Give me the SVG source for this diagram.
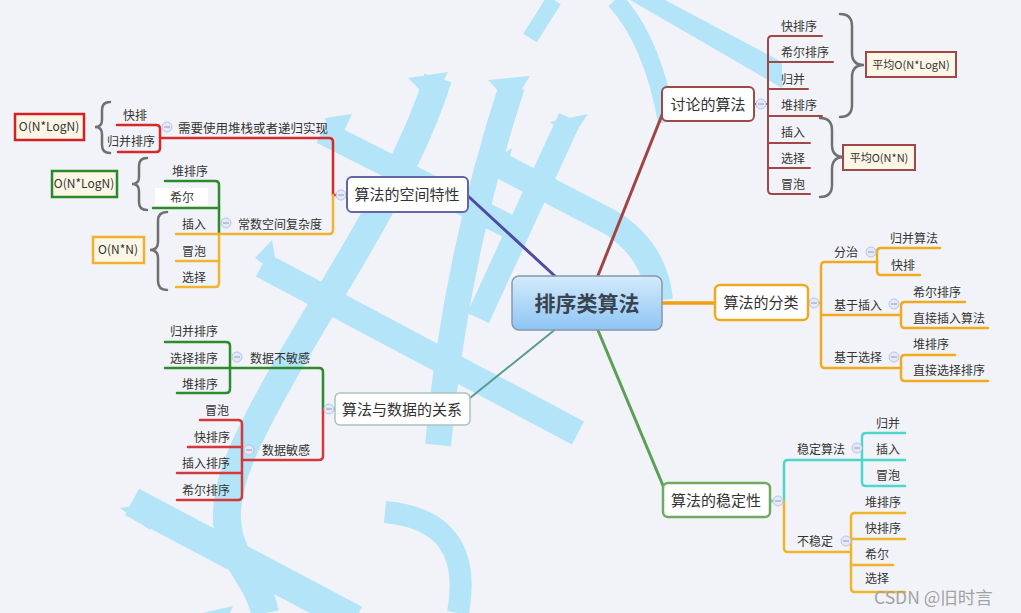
<svg xmlns="http://www.w3.org/2000/svg" width="1021" height="613" viewBox="0 0 1021 613">
<defs>
<linearGradient id="cg" x1="0" y1="0" x2="0" y2="1">
<stop offset="0" stop-color="#d4ebfc"/>
<stop offset="1" stop-color="#8ec5f3"/>
</linearGradient>
<style>
.t{font-family:"Noto Sans CJK SC","Liberation Sans",sans-serif;fill:#333;}
.leaf{font-size:12px;}
.mid{font-size:15px;}
.note{font-size:11px;}
.ln{fill:none;stroke-linecap:round;stroke-linejoin:round;}
.wm{fill:none;stroke:#b3e4f8;stroke-linecap:butt;}
.wf{fill:#b3e4f8;}
.box{fill:#fff;stroke-width:2;}
.nb{fill:#fcf6e6;stroke-width:2.5;}
.br{fill:none;stroke:#707070;stroke-width:2.5;stroke-linecap:round;}
.cc{fill:#e3e9f6;stroke:#b7c4e2;stroke-width:1;}
.cm{stroke:#8e9cc8;stroke-width:1;}
</style>
</defs>
<rect x="0" y="0" width="1021" height="613" fill="#f2f3f8"/>

<g id="watermark">
<path class="wm" stroke-width="16" d="M554,0 L530,38"/>
<path class="wm" stroke-width="18" d="M615,0 Q652,40 667,122"/>
<path class="wf" d="M630,0 L665,0 L782,62 L782,88 Z"/>
<path class="wm" stroke-width="26" d="M512,86 Q455,260 438,445"/>
<path class="wf" d="M488,80 L530,76 L512,105 Z"/>
<path class="wm" stroke-width="28" d="M438,78 C400,200 300,330 248,440 S255,560 265,613"/>
<path class="wf" d="M408,78 L448,72 L432,102 Z"/>
<path class="wm" stroke-width="26" d="M262,265 L578,433"/>
<path class="wf" d="M255,258 L272,240 L278,275 Z"/>
<path class="wm" stroke-width="24" d="M322,132 L520,232"/>
<path class="wf" d="M325,118 L352,114 L335,150 Z"/>
<path class="wm" stroke-width="26" d="M490,160 L610,222 Q655,250 660,300"/>
<path class="wf" d="M482,168 L512,148 L505,180 Z"/>
<path class="wm" stroke-width="24" d="M570,118 L478,318"/>
<path class="wf" d="M550,122 L588,114 L570,140 Z"/>
<path class="wm" stroke-width="30" d="M132,502 L355,620"/>
<path class="wf" d="M120,508 L157,503 L150,530 Z"/>
<path class="wm" stroke-width="22" d="M385,512 Q475,520 458,613"/>
<path class="wf" d="M203,613 L233,606 L230,613 Z"/>
</g>

<g id="connectors">
<path class="ln" stroke="#a04444" stroke-width="3" d="M597,278 L664,110"/>
<path class="ln" stroke="#f0a010" stroke-width="3.5" d="M660,303 L715,303"/>
<path class="ln" stroke="#5aa055" stroke-width="3" d="M597,328 L664,488"/>
<path class="ln" stroke="#4c4ca0" stroke-width="3" d="M557,278 L468,196"/>
<path class="ln" stroke="#5a9a90" stroke-width="2" d="M557,328 L470,398"/>

<g stroke="#a04848" stroke-width="2" class="ln">
<path d="M754,104 H768"/>
<path d="M822,36 H772 Q768,36 768,40 V190 Q768,194 772,194 H810"/>
<path d="M768,62 H833 M768,89 H808 M768,116 H822 M768,143 H810 M768,168 H810"/>
</g>
<g stroke="#f0aa20" stroke-width="2.5" class="ln">
<path d="M808,303 H821"/>
<path d="M877,262 H825 Q821,262 821,266 V364 Q821,368 825,368 H901"/>
<path d="M821,315 H901"/>
<path d="M940,248 H881 Q877,248 877,252 V271 Q877,275 881,275 H920"/>
<path d="M965,302 H905 Q901,302 901,306 V324 Q901,328 905,328 H988"/>
<path d="M955,355 H905 Q901,355 901,359 V377 Q901,381 905,381 H988"/>
</g>
<g stroke="#4fd6ca" stroke-width="2.5" class="ln">
<path d="M770,501 H784 V464 Q784,460 788,460 H862"/>
<path d="M905,433 H866 Q862,433 862,437 V482 Q862,486 866,486 H905"/>
<path d="M862,460 H905"/>
</g>
<g stroke="#f0b428" stroke-width="2.5" class="ln">
<path d="M784,501 V548 Q784,552 788,552 H851"/>
<path d="M905,513 H855 Q851,513 851,517 V588 Q851,592 855,592 H905"/>
<path d="M851,539 H905 M851,565 H893"/>
</g>
<g stroke="#d42a2a" stroke-width="2.5" class="ln">
<path d="M347,195 H333 V142 Q333,138 329,138 H160"/>
<path d="M117,125 H156 Q160,125 160,129 V148 Q160,152 156,152 H118"/>
</g>
<g stroke="#2a8c2a" stroke-width="2.5" class="ln">
<path d="M165,181 H215 Q219,181 219,185 V234"/>
<path d="M153,208 H219"/>
</g>
<g stroke="#f2b232" stroke-width="2.5" class="ln">
<path d="M333,195 V230 Q333,234 329,234 H176"/>
<path d="M219,234 V283 Q219,287 215,287 H176"/>
<path d="M219,261 H176"/>
</g>
<g stroke="#2a8c2a" stroke-width="2.5" class="ln">
<path d="M335,409 H323 V372 Q323,368 319,368 H165"/>
<path d="M165,342 H226 Q230,342 230,346 V389 Q230,393 226,393 H177"/>
</g>
<g stroke="#d43838" stroke-width="2.5" class="ln">
<path d="M323,409 V456 Q323,460 319,460 H242"/>
<path d="M200,420 H238 Q242,420 242,424 V496 Q242,500 238,500 H177"/>
<path d="M188,447 H242 M177,473 H242"/>
</g>
<path class="br" d="M840,14 Q852,14 852,26 L852,53 Q852,65 864,65 Q852,65 852,77 L852,105 Q852,117 840,117"/>
<path class="br" d="M820,118 Q832,118 832,130 L832,145 Q832,157 844,157 Q832,157 832,169 L832,185 Q832,197 820,197"/>
<path class="br" d="M110,102 Q102,102 102,110 L102,120 Q102,127 95,127 Q102,127 102,134 L102,145 Q102,153 110,153"/>
<path class="br" d="M147,158 Q139,158 139,166 L139,177 Q139,184 132,184 Q139,184 139,191 L139,202 Q139,210 147,210"/>
<path class="br" d="M167,212 Q158,212 158,221 L158,242 Q158,250 150,250 Q158,250 158,258 L158,281 Q158,290 167,290"/>
<g>
<circle class="cc" cx="761" cy="104" r="5"/><line class="cm" x1="758" y1="104" x2="764" y2="104"/>
<circle class="cc" cx="814" cy="303" r="5"/><line class="cm" x1="811" y1="303" x2="817" y2="303"/>
<circle class="cc" cx="871" cy="252" r="5"/><line class="cm" x1="868" y1="252" x2="874" y2="252"/>
<circle class="cc" cx="894" cy="304" r="5"/><line class="cm" x1="891" y1="304" x2="897" y2="304"/>
<circle class="cc" cx="894" cy="357" r="5"/><line class="cm" x1="891" y1="357" x2="897" y2="357"/>
<circle class="cc" cx="778" cy="501" r="5"/><line class="cm" x1="775" y1="501" x2="781" y2="501"/>
<circle class="cc" cx="857" cy="448" r="5"/><line class="cm" x1="854" y1="448" x2="860" y2="448"/>
<circle class="cc" cx="846" cy="541" r="5"/><line class="cm" x1="843" y1="541" x2="849" y2="541"/>
<circle class="cc" cx="341" cy="195" r="5"/><line class="cm" x1="338" y1="195" x2="344" y2="195"/>
<circle class="cc" cx="167" cy="127" r="5"/><line class="cm" x1="164" y1="127" x2="170" y2="127"/>
<circle class="cc" cx="226" cy="223" r="5"/><line class="cm" x1="223" y1="223" x2="229" y2="223"/>
<circle class="cc" cx="329" cy="409" r="5"/><line class="cm" x1="326" y1="409" x2="332" y2="409"/>
<circle class="cc" cx="237" cy="357" r="5"/><line class="cm" x1="234" y1="357" x2="240" y2="357"/>
<circle class="cc" cx="249" cy="450" r="5"/><line class="cm" x1="246" y1="450" x2="252" y2="450"/>
</g>
</g>

<g id="n-root">
<rect x="512" y="276" width="150" height="54" rx="7" fill="url(#cg)" stroke="#8898ac" stroke-width="1.5"/>
<text class="t" x="587" y="311" font-size="21" font-weight="bold" text-anchor="middle" style="fill:#3a4450">排序类算法</text>
</g>

<g id="n-discuss">
<rect class="box" x="662" y="87" width="92" height="34" rx="5" stroke="#a04848"/>
<text class="t mid" x="708" y="110" text-anchor="middle">讨论的算法</text>
<text class="t leaf" x="781" y="31">快排序</text>
<text class="t leaf" x="781" y="57">希尔排序</text>
<text class="t leaf" x="781" y="84">归并</text>
<text class="t leaf" x="781" y="110">堆排序</text>
<text class="t leaf" x="781" y="137">插入</text>
<text class="t leaf" x="781" y="163">选择</text>
<text class="t leaf" x="781" y="189">冒泡</text>
</g>
<g id="n-avg-nlogn">
<rect class="nb" x="866" y="52" width="90" height="25" stroke="#a04848" style="stroke-width:2"/>
<text class="t note" x="911" y="69" text-anchor="middle">平均O(N*LogN)</text>
</g>
<g id="n-avg-nn">
<rect class="nb" x="843" y="145" width="72" height="25" stroke="#a04848" style="stroke-width:2"/>
<text class="t note" x="879" y="162" text-anchor="middle">平均O(N*N)</text>
</g>

<g id="n-classify">
<rect class="box" x="715" y="285" width="93" height="35" rx="5" stroke="#f0aa20" style="stroke-width:2.5"/>
<text class="t mid" x="761" y="308" text-anchor="middle">算法的分类</text>
<text class="t leaf" x="834" y="257">分治</text>
<text class="t leaf" x="890" y="243">归并算法</text>
<text class="t leaf" x="891" y="270">快排</text>
<text class="t leaf" x="834" y="310">基于插入</text>
<text class="t leaf" x="913" y="297">希尔排序</text>
<text class="t leaf" x="913" y="323">直接插入算法</text>
<text class="t leaf" x="834" y="362">基于选择</text>
<text class="t leaf" x="913" y="349">堆排序</text>
<text class="t leaf" x="913" y="375">直接选择排序</text>
</g>

<g id="n-stable">
<rect class="box" x="663" y="483" width="107" height="34" rx="5" stroke="#6eaa62" style="stroke-width:2.5"/>
<text class="t mid" x="716" y="506" text-anchor="middle">算法的稳定性</text>
<text class="t leaf" x="797" y="454">稳定算法</text>
<text class="t leaf" x="876" y="428">归并</text>
<text class="t leaf" x="876" y="454">插入</text>
<text class="t leaf" x="876" y="480">冒泡</text>
<text class="t leaf" x="797" y="546">不稳定</text>
<text class="t leaf" x="865" y="507">堆排序</text>
<text class="t leaf" x="865" y="533">快排序</text>
<text class="t leaf" x="865" y="559">希尔</text>
<text class="t leaf" x="865" y="583">选择</text>
</g>

<g id="n-space">
<rect class="box" x="347" y="177" width="121" height="35" rx="5" stroke="#6464a8"/>
<text class="t mid" x="407" y="200" text-anchor="middle">算法的空间特性</text>
<text class="t" font-size="12.5" x="178" y="133">需要使用堆栈或者递归实现</text>
<text class="t leaf" x="123" y="120">快排</text>
<text class="t leaf" x="107" y="146">归并排序</text>
<text class="t leaf" x="238" y="229">常数空间复杂度</text>
<text class="t leaf" x="172" y="176">堆排序</text>
<rect x="155" y="188" width="53" height="18" fill="#fff"/>
<text class="t leaf" x="170" y="202">希尔</text>
<text class="t leaf" x="182" y="229">插入</text>
<text class="t leaf" x="182" y="256">冒泡</text>
<text class="t leaf" x="182" y="282">选择</text>
</g>
<g id="n-red-nlogn">
<rect class="nb" x="15" y="114" width="69" height="26" stroke="#d42020"/>
<text class="t leaf" x="49" y="131" text-anchor="middle">O(N*LogN)</text>
</g>
<g id="n-green-nlogn">
<rect class="nb" x="52" y="171" width="65" height="26" stroke="#2a8a2a"/>
<text class="t leaf" x="84" y="188" text-anchor="middle">O(N*LogN)</text>
</g>
<g id="n-orange-nn">
<rect class="nb" x="93" y="237" width="51" height="26" stroke="#f0b030"/>
<text class="t leaf" x="118" y="254" text-anchor="middle">O(N*N)</text>
</g>

<g id="n-data">
<rect class="box" x="335" y="393" width="135" height="32" rx="5" stroke="#a8c4c0" style="stroke-width:1.5"/>
<text class="t mid" x="402" y="415" text-anchor="middle">算法与数据的关系</text>
<text class="t leaf" x="250" y="363">数据不敏感</text>
<text class="t leaf" x="218" y="336" text-anchor="end">归并排序</text>
<text class="t leaf" x="218" y="363" text-anchor="end">选择排序</text>
<text class="t leaf" x="218" y="389" text-anchor="end">堆排序</text>
<text class="t leaf" x="262" y="455">数据敏感</text>
<text class="t leaf" x="229" y="415" text-anchor="end">冒泡</text>
<text class="t leaf" x="230" y="442" text-anchor="end">快排序</text>
<text class="t leaf" x="230" y="468" text-anchor="end">插入排序</text>
<text class="t leaf" x="230" y="495" text-anchor="end">希尔排序</text>
</g>

<text class="t" x="874" y="604" font-size="17.5" style="fill:#a2a2a2">CSDN @旧时言</text>
</svg>
